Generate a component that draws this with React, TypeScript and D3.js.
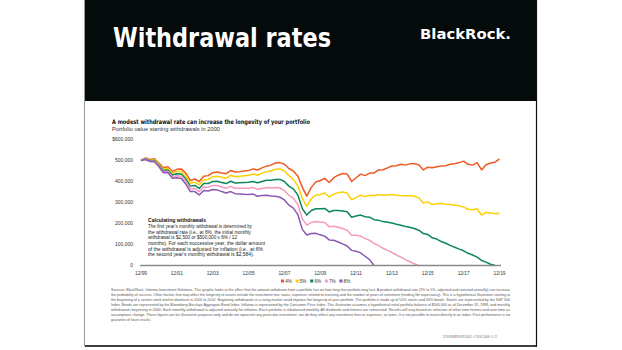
import * as d3 from "d3";
import React from "react";

// portfolio value in $ thousands, quarterly from 12/99
const rate4 = [500, 512, 505, 508, 488, 465, 470, 448, 458, 460, 440, 405, 412, 400, 425, 428, 442, 445, 440, 437, 452, 445, 447, 450, 452, 460, 455, 465, 473, 478, 488, 490, 482, 462, 450, 425, 372, 330, 372, 398, 405, 415, 395, 418, 430, 438, 436, 400, 418, 435, 428, 440, 440, 455, 456, 465, 474, 475, 482, 478, 484, 485, 480, 455, 468, 465, 470, 474, 475, 482, 485, 490, 497, 482, 478, 490, 455, 480, 488, 492, 508];
const rate5 = [500, 510, 502, 504, 484, 459, 463, 440, 448, 448, 427, 392, 397, 384, 408, 410, 423, 425, 420, 416, 430, 423, 425, 427, 430, 436, 430, 440, 447, 450, 458, 460, 450, 428, 410, 378, 318, 282, 318, 335, 338, 345, 326, 340, 347, 350, 345, 313, 323, 335, 328, 335, 332, 338, 334, 336, 338, 335, 333, 332, 333, 330, 322, 298, 303, 290, 294, 296, 292, 290, 287, 284, 278, 268, 266, 270, 240, 253, 250, 247, 249];
const rate6 = [500, 508, 500, 500, 479, 452, 455, 431, 437, 436, 413, 378, 381, 367, 390, 390, 400, 401, 395, 390, 401, 393, 394, 395, 396, 400, 394, 400, 406, 406, 410, 410, 400, 378, 365, 335, 270, 240, 262, 270, 270, 272, 255, 262, 262, 260, 256, 230, 236, 240, 232, 230, 218, 216, 209, 206, 202, 196, 192, 186, 182, 176, 168, 152, 148, 132, 126, 114, 106, 96, 87, 78, 70, 58, 50, 40, 24, 16, 6, 0];
const rate7 = [500, 507, 498, 497, 475, 447, 449, 423, 427, 425, 401, 366, 367, 352, 374, 373, 381, 381, 374, 368, 377, 368, 368, 368, 368, 371, 363, 367, 371, 369, 371, 369, 357, 334, 320, 290, 222, 192, 205, 210, 207, 205, 185, 187, 182, 176, 168, 144, 144, 140, 128, 120, 105, 96, 82, 72, 62, 50, 40, 28, 18, 8, 0];
const rate8 = [500, 505, 495, 494, 470, 442, 443, 415, 418, 414, 388, 352, 352, 336, 357, 355, 362, 360, 352, 345, 352, 342, 341, 339, 338, 340, 330, 333, 335, 331, 330, 325, 312, 288, 273, 242, 172, 145, 152, 153, 146, 140, 122, 120, 112, 103, 93, 72, 68, 60, 44, 28, 0];

const seriesNames = ["4%", "5%", "6%", "7%", "8%"];
const seriesColors = ["#ee5a24", "#fdd000", "#0b875b", "#f59ac0", "#8a58b4"];
const yTicks = [0, 100000, 200000, 300000, 400000, 500000, 600000];
const xTickYears = [1999, 2001, 2003, 2005, 2007, 2009, 2011, 2013, 2015, 2017, 2019];

const calloutTitle = "Calculating withdrawals";
const calloutLines = [
  "The first year\u2019s monthly withdrawal is determined by",
  "the withdrawal rate (i.e., at 6%, the initial monthly",
  "withdrawal is $2,500 or $500,000 x 6% / 12",
  "months). For each successive year, the dollar amount",
  "of the withdrawal is adjusted for inflation (i.e., at 6%",
  "the second year\u2019s monthly withdrawal is $2,584).",
];
const calloutWidths = [104, 103, 89, 117, 115, 106];

const footLines = [
  "Sources: BlackRock; Informa Investment Solutions. This graphic looks at the effect that the amount withdrawn from a portfolio has on how long that portfolio may last. A prudent withdrawal rate (3% to 5%, adjusted and revisited annually) can increase",
  "the probability of success. Other factors that may affect the longevity of assets include the investment mix, taxes, expenses related to investing and the number of years of retirement (tending life expectancy). This is a hypothetical illustration starting at",
  "the beginning of a severe stock market downturn in 2000 to 2002. Beginning withdrawals in a rising market could improve the longevity of your portfolio. The portfolio is made up of 50% stocks and 50% bonds. Stocks are represented by the S&P 500",
  "Index. Bonds are represented by the Bloomberg Barclays Aggregate Bond Index. Inflation is represented by the Consumer Price Index. This illustration assumes a hypothetical initial portfolio balance of $500,000 as of December 31, 1999, and monthly",
  "withdrawals beginning in 2000. Each monthly withdrawal is adjusted annually for inflation. Each portfolio is rebalanced monthly. All dividends and interest are reinvested. Results will vary based on selection of other time frames and over time as",
  "assumptions change. These figures are for illustrative purposes only and do not represent any particular investment, nor do they reflect any investment fees or expenses, or taxes. It is not possible to invest directly in an index. Past performance is no",
  "guarantee of future results.",
];

const App: React.FC = () => {
  const start = new Date(1999, 11, 31);
  const xScale = d3.scaleTime().domain([start, new Date(2019, 11, 31)]).range([141, 499.5]);
  const yScale = d3.scaleLinear().domain([0, 600000]).range([265.5, 139.5]);

  const allSeries = [rate4, rate5, rate6, rate7, rate8];
  const line = d3
    .line<number>()
    .x((_, i) => xScale(d3.timeMonth.offset(start, i * 3)))
    .y((d) => yScale(d * 1000));

  const fmt = d3.format(",");

  return (
    <svg width={622} height={350} style={{ position: "absolute", left: 0, top: 0, background: "#fff" }}>
      {/* card */}
      <rect x={84.5} y={-2} width={452} height={348} fill="#fff" stroke="#9a9a9a" strokeWidth={1} />
      <line x1={536.5} y1={0} x2={536.5} y2={346.5} stroke="#111" strokeWidth={1.2} />
      <line x1={85} y1={346} x2={537} y2={346} stroke="#111" strokeWidth={1.5} />
      <rect x={85} y={0} width={451} height={101} fill="#050a0a" />
      <text x={113} y={47} fill="#fff" fontFamily="DejaVu Sans" fontWeight="bold" fontSize={26} textLength={218} lengthAdjust="spacingAndGlyphs">
        Withdrawal rates
      </text>
      <text x={420} y={38.5} fill="#fff" fontFamily="DejaVu Sans" fontWeight="bold" fontSize={14.5} textLength={91} lengthAdjust="spacingAndGlyphs">
        BlackRock.
      </text>

      {/* chart headings */}
      <text x={112} y={123.5} fill="#111" fontFamily="DejaVu Sans" fontWeight="bold" fontSize={6.3} textLength={198} lengthAdjust="spacingAndGlyphs">
        A modest withdrawal rate can increase the longevity of your portfolio
      </text>
      <text x={112} y={131} fill="#333" fontFamily="Liberation Sans" fontSize={5.8} textLength={108} lengthAdjust="spacingAndGlyphs">
        Portfolio value starting withdrawals in 2000
      </text>

      {/* y axis labels */}
      {yTicks.map((t) => (
        <text key={t} x={133} y={yScale(t) + 1.8} textAnchor="end" fill="#333" fontFamily="Liberation Sans" fontSize={5}>
          {t === 600000 ? "$" + fmt(t) : fmt(t)}
        </text>
      ))}

      {/* series */}
      {allSeries.map((s, i) => (
        <path key={i} d={line(s) ?? ""} fill="none" stroke={seriesColors[i]} strokeWidth={1.5} strokeLinejoin="round" />
      ))}

      {/* baseline */}
      <line x1={140} x2={501} y1={yScale(0)} y2={yScale(0)} stroke="#8a8a8a" strokeWidth={1.6} />

      {/* x labels */}
      {xTickYears.map((yr) => (
        <text key={yr} x={xScale(new Date(yr, 11, 31))} y={275} textAnchor="middle" fill="#333" fontFamily="Liberation Sans" fontSize={4.8}>
          {"12/" + String(yr % 100).padStart(2, "0")}
        </text>
      ))}

      {/* legend */}
      {seriesNames.map((n, i) => (
        <g key={n} transform={`translate(${281 + i * 14.6},281)`}>
          <rect x={0} y={-1.5} width={3} height={3} fill={seriesColors[i]} />
          <text x={4.2} y={1.6} fill="#333" fontFamily="Liberation Sans" fontSize={4.6}>
            {n}
          </text>
        </g>
      ))}

      {/* callout */}
      <text x={148} y={222} fill="#111" fontFamily="Liberation Sans" fontWeight="bold" fontSize={5.3} textLength={58} lengthAdjust="spacingAndGlyphs">
        {calloutTitle}
      </text>
      {calloutLines.map((l, i) => (
        <text key={i} x={148} y={227.8 + i * 5.7} fill="#222" fontFamily="Liberation Sans" fontSize={5} textLength={calloutWidths[i]} lengthAdjust="spacingAndGlyphs">
          {l}
        </text>
      ))}

      {/* footnote */}
      {footLines.map((l, i) => (
        <text
          key={i}
          x={111}
          y={291 + i * 5}
          fill="#555"
          fontFamily="Liberation Sans"
          fontSize={3.9}
          textLength={i < footLines.length - 1 ? 399 : 40}
          lengthAdjust="spacingAndGlyphs"
        >
          {l}
        </text>
      ))}
      <text x={443} y={338} fill="#777" fontFamily="Liberation Serif" fontSize={4} textLength={54} lengthAdjust="spacingAndGlyphs">
        USRMH0920U-1366308-1/2
      </text>
    </svg>
  );
};

export default App;
